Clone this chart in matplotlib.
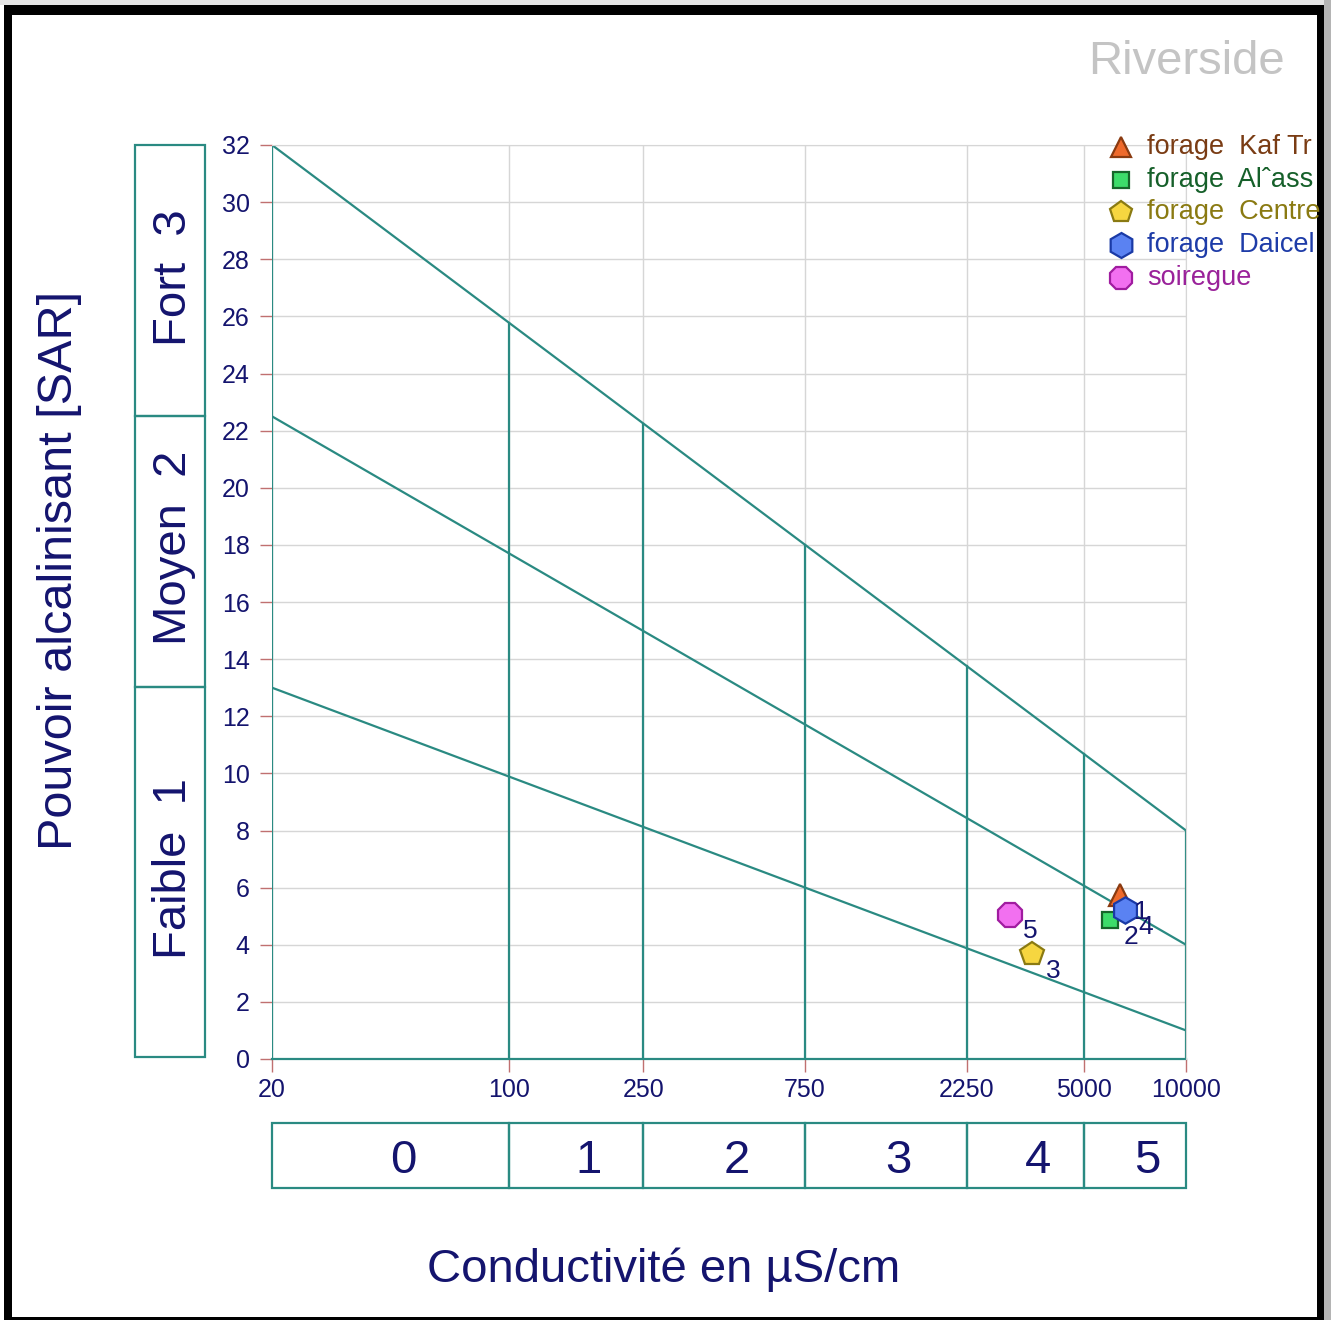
import numpy as np
import matplotlib
matplotlib.use("Agg")
import matplotlib.pyplot as plt
from matplotlib.patches import Rectangle

plt.rcParams['font.family'] = ['Liberation Sans', 'DejaVu Sans']

# --- data ---------------------------------------------------------------
x_ticks = [20, 100, 250, 750, 2250, 5000, 10000]
y_ticks = list(range(0, 33, 2))

# SAR limit lines (value at 20 and at 10000 µS/cm)
line_x = [20, 10000]
line_top = [32, 8]
line_mid = [22.5, 4]
line_low = [13, 1]

cond_classes = ['0', '1', '2', '3', '4', '5']
sar_classes = ['Faible  1', 'Moyen  2', 'Fort  3']
sar_bounds = [0, 13, 22.5, 32]

names = ['forage  Kaf Tr', 'forage  Al\u02c6ass', 'forage  Centre', 'forage  Daicel', 'soiregue']
point_ids = ['1', '2', '3', '4', '5']
cond = [6390, 5970, 3510, 6610, 3020]
sar = [5.74, 4.85, 3.68, 5.22, 5.05]

markers = ['^', 's', 'p', 'h', '8']
fills = ['#ee6a2c', '#3ddc6a', '#f6d640', '#5a82f2', '#f270f0']
edges = ['#8a3a10', '#16662a', '#8a7a12', '#1a3aa6', '#a01ca0']
text_cols = ['#7a3c14', '#16602a', '#8a7a12', '#1e3ca8', '#9a229a']
sizes = [16, 12, 18, 19, 18]
leg_sizes = [15, 11, 16, 18, 17]

teal = '#2a8a82'
navy = '#14146e'
grid_col = '#d6d6d6'
tick_col = '#c07070'

W, H = 1331, 1320
fig = plt.figure(figsize=(W / 100, H / 100), dpi=100)
fig.patch.set_facecolor('white')


def fx(px):
    return px / W


def fy(py):
    return 1 - py / H


# --- main diagram -------------------------------------------------------
ax = fig.add_axes([fx(272), fy(1059), fx(1186) - fx(272), fy(145) - fy(1059)])
ax.set_xscale('log')
ax.set_xlim(x_ticks[0], x_ticks[-1])
ax.set_ylim(0, 32)

for y in y_ticks:
    ax.axhline(y, color=grid_col, lw=1, zorder=0)
for x in x_ticks:
    ax.axvline(x, color=grid_col, lw=1, zorder=0)

for ys in (line_top, line_mid, line_low):
    ax.plot(line_x, ys, color=teal, lw=1.6, zorder=2)


def top_at(x):
    t = (np.log10(x) - np.log10(line_x[0])) / (np.log10(line_x[1]) - np.log10(line_x[0]))
    return line_top[0] + t * (line_top[1] - line_top[0])


for x in x_ticks:
    ax.plot([x, x], [0, top_at(x)], color=teal, lw=1.6, zorder=2)
ax.plot(line_x, [0, 0], color=teal, lw=1.6, zorder=2, clip_on=False)

for s in ['top', 'right']:
    ax.spines[s].set_color(grid_col)
for s in ['left', 'bottom']:
    ax.spines[s].set_visible(False)

ax.set_xticks(x_ticks)
ax.set_xticklabels([str(v) for v in x_ticks])
ax.xaxis.set_minor_locator(matplotlib.ticker.NullLocator())
ax.set_yticks(y_ticks)
ax.tick_params(axis='both', colors=tick_col, labelcolor=navy, labelsize=18,
               length=9, width=1)
ax.tick_params(axis='x', pad=5)
ax.tick_params(axis='y', pad=7)

for xi, yi, m, fc, ec, ms, lab in zip(cond, sar, markers, fills, edges, sizes, point_ids):
    ax.plot(xi, yi, marker=m, ms=ms, mfc=fc, mec=ec, mew=1.6, ls='none', zorder=5)
    ax.annotate(lab, (xi, yi), xytext=(15, -12), textcoords='offset points',
                ha='center', va='center', fontsize=19, color=navy, zorder=6)

# --- SAR class boxes (left) ---------------------------------------------
axl = fig.add_axes([fx(135), fy(1057), fx(205) - fx(135), fy(145) - fy(1057)])
axl.set_xlim(0, 1)
axl.set_ylim(0, 32)
axl.axis('off')
for lo, hi, lab in zip(sar_bounds[:-1], sar_bounds[1:], sar_classes):
    axl.add_patch(Rectangle((0, lo), 1, hi - lo, fill=False, ec=teal, lw=1.6, clip_on=False))
    axl.text(0.55, (lo + hi) / 2 + 0.1, lab, rotation=90, ha='center', va='center',
             fontsize=34, color=navy)

# --- conductivity class boxes (bottom) ----------------------------------
axb = fig.add_axes([fx(272), fy(1188), fx(1186) - fx(272), fy(1123) - fy(1188)])
axb.set_xscale('log')
axb.set_xlim(x_ticks[0], x_ticks[-1])
axb.set_ylim(0, 1)
axb.axis('off')
for lo, hi, lab in zip(x_ticks[:-1], x_ticks[1:], cond_classes):
    axb.add_patch(Rectangle((lo, 0), hi - lo, 1, fill=False, ec=teal, lw=1.6, clip_on=False))
    mid = np.sqrt(lo * hi)
    axb.annotate(lab, (mid, 0.5), xytext=(9, -4), textcoords='offset points',
                 ha='center', va='center', fontsize=34, color=navy)

# --- titles and axis labels ---------------------------------------------
fig.text(fx(664), fy(1270), 'Conductivité en µS/cm', ha='center', va='center',
         fontsize=34, color=navy)
fig.text(fx(60), fy(570), 'Pouvoir alcalinisant [SAR]', ha='center', va='center',
         rotation=90, fontsize=35, color=navy)
fig.text(fx(1186), fy(62), 'Riverside', ha='center', va='center',
         fontsize=34, color='#c4c4c4')

# --- legend -------------------------------------------------------------
clip = Rectangle((0, 0), fx(1317), 1, transform=fig.transFigure, visible=False)
fig.add_artist(clip)
leg_ax = fig.add_axes([0, 0, 1, 1], facecolor='none')
leg_ax.set_xlim(0, W)
leg_ax.set_ylim(H, 0)
leg_ax.axis('off')
for i, (nm, m, fc, ec, tc, ms) in enumerate(zip(names, markers, fills, edges, text_cols, leg_sizes)):
    yy = 147 + i * 32.7
    leg_ax.plot(1121, yy, marker=m, ms=ms, mfc=fc, mec=ec, mew=1.6, ls='none')
    t = leg_ax.text(1147, yy, nm, ha='left', va='center', fontsize=19.5, color=tc)
    t.set_clip_path(clip)

# --- page frame ---------------------------------------------------------
leg_ax.add_patch(Rectangle((0, 0), W, 5, color='#e4e4e4', lw=0))
leg_ax.add_patch(Rectangle((1324, 0), 7, H, color='#b4b4b4', lw=0))
leg_ax.add_patch(Rectangle((4, 5), 1320, 10, color='black', lw=0))
leg_ax.add_patch(Rectangle((4, 5), 8, H, color='black', lw=0))
leg_ax.add_patch(Rectangle((1317, 5), 7, H, color='black', lw=0))
leg_ax.add_patch(Rectangle((4, 1317), 1320, 3, color='black', lw=0))

fig.savefig('out.png', dpi=100, facecolor='white')
